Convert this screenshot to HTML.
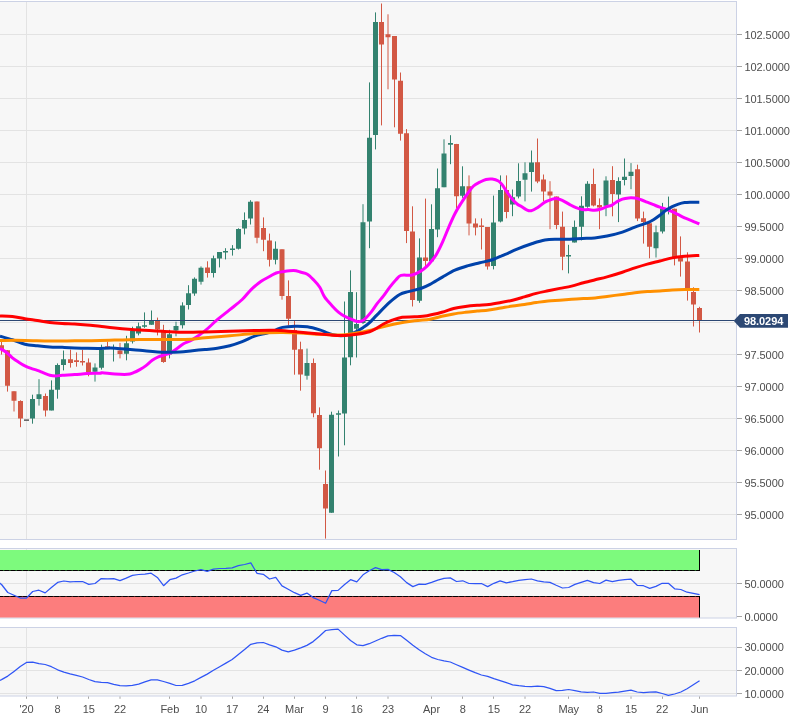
<!DOCTYPE html><html><head><meta charset="utf-8"><title>Chart</title><style>html,body{margin:0;padding:0;background:#fff}body{width:805px;height:716px;overflow:hidden}svg{display:block;will-change:transform}text{font-family:"Liberation Sans",sans-serif;font-size:11px;letter-spacing:-0.08px;fill:#4d4d4d}</style></head><body>
<svg width="805" height="716" viewBox="0 0 805 716">
<rect width="805" height="716" fill="#fff"/>
<rect x="-1" y="1.5" width="737.5" height="538.0" fill="#f7f7f7" stroke="#ccd2e5" stroke-width="1"/>
<rect x="-1" y="548.5" width="737.5" height="69.5" fill="#f7f7f7" stroke="#ccd2e5" stroke-width="1"/>
<rect x="-1" y="627.5" width="737.5" height="68.5" fill="#f7f7f7" stroke="#ccd2e5" stroke-width="1"/>
<path d="M26.48 2.0V539.0M26.48 549.0V617.5M26.48 628.0V695.5M0 34.5H736.0M0 66.5H736.0M0 98.5H736.0M0 130.5H736.0M0 162.5H736.0M0 194.5H736.0M0 226.5H736.0M0 258.5H736.0M0 290.5H736.0M0 322.5H736.0M0 354.5H736.0M0 386.5H736.0M0 418.5H736.0M0 450.5H736.0M0 482.5H736.0M0 514.5H736.0M0 583.5H736.0M0 647.5H736.0M0 670.5H736.0M0 693.5H736.0" stroke="#e3e3e3" stroke-width="1" fill="none"/>
<text x="744.5" y="38.5">102.5000</text>
<text x="744.5" y="70.5">102.0000</text>
<text x="744.5" y="102.5">101.5000</text>
<text x="744.5" y="134.5">101.0000</text>
<text x="744.5" y="166.5">100.5000</text>
<text x="744.5" y="198.5">100.0000</text>
<text x="744.5" y="230.5">99.5000</text>
<text x="744.5" y="262.5">99.0000</text>
<text x="744.5" y="294.5">98.5000</text>
<text x="744.5" y="358.5">97.5000</text>
<text x="744.5" y="390.5">97.0000</text>
<text x="744.5" y="422.5">96.5000</text>
<text x="744.5" y="454.5">96.0000</text>
<text x="744.5" y="486.5">95.5000</text>
<text x="744.5" y="518.5">95.0000</text>
<text x="744.5" y="587.8">50.0000</text>
<text x="744.5" y="620.8">0.0000</text>
<text x="744.5" y="651.1">30.0000</text>
<text x="744.5" y="674.5">20.0000</text>
<text x="744.5" y="697.9">10.0000</text>
<text x="26.48" y="712.8" text-anchor="middle">'20</text>
<text x="57.64" y="712.8" text-anchor="middle">8</text>
<text x="88.80" y="712.8" text-anchor="middle">15</text>
<text x="119.96" y="712.8" text-anchor="middle">22</text>
<text x="169.82" y="712.8" text-anchor="middle">Feb</text>
<text x="200.98" y="712.8" text-anchor="middle">10</text>
<text x="232.14" y="712.8" text-anchor="middle">17</text>
<text x="263.30" y="712.8" text-anchor="middle">24</text>
<text x="294.46" y="712.8" text-anchor="middle">Mar</text>
<text x="325.62" y="712.8" text-anchor="middle">9</text>
<text x="356.78" y="712.8" text-anchor="middle">16</text>
<text x="387.94" y="712.8" text-anchor="middle">23</text>
<text x="431.56" y="712.8" text-anchor="middle">Apr</text>
<text x="462.73" y="712.8" text-anchor="middle">8</text>
<text x="493.89" y="712.8" text-anchor="middle">15</text>
<text x="525.05" y="712.8" text-anchor="middle">22</text>
<text x="568.67" y="712.8" text-anchor="middle">May</text>
<text x="599.83" y="712.8" text-anchor="middle">8</text>
<text x="630.99" y="712.8" text-anchor="middle">15</text>
<text x="662.15" y="712.8" text-anchor="middle">22</text>
<text x="699.55" y="712.8" text-anchor="middle">Jun</text>
<path d="M737.0 34.5h5M737.0 66.5h5M737.0 98.5h5M737.0 130.5h5M737.0 162.5h5M737.0 194.5h5M737.0 226.5h5M737.0 258.5h5M737.0 290.5h5M737.0 354.5h5M737.0 386.5h5M737.0 418.5h5M737.0 450.5h5M737.0 482.5h5M737.0 514.5h5M737.0 583.5h5M737.0 616.5h5M737.0 647.5h5M737.0 670.5h5M737.0 693.5h5M26.50 696.5v2.3M57.50 696.5v2.3M88.50 696.5v2.3M120.00 696.5v2.3M169.50 696.5v2.3M201.00 696.5v2.3M232.50 696.5v2.3M263.50 696.5v2.3M294.50 696.5v2.3M325.50 696.5v2.3M356.50 696.5v2.3M388.00 696.5v2.3M431.50 696.5v2.3M462.50 696.5v2.3M493.50 696.5v2.3M525.00 696.5v2.3M568.50 696.5v2.3M599.50 696.5v2.3M631.00 696.5v2.3M662.50 696.5v2.3M699.50 696.5v2.3" stroke="#a6a6a6" stroke-width="1" fill="none"/>
<path d="M32.50 394.7V423.7M39.00 379.2V405.6M51.50 380.4V410.4M57.50 363.4V398.7M63.50 350.5V370.4M95.00 363.4V381.6M101.50 344.7V369.6M113.50 344.5V361.5M126.50 335.8V360.3M132.50 326.7V343.5M138.50 322.6V335.4M144.50 312.4V327.9M151.50 310.5V324.8M169.50 329.8V358.4M176.00 321.7V336.3M182.50 302.3V328.5M188.50 285.2V309.5M194.50 277.4V295.8M201.00 266.4V284.6M213.50 255.6V277.5M219.50 252.0V267.4M225.50 248.2V259.4M232.50 245.1V255.6M238.50 228.3V249.5M244.50 212.4V234.4M250.50 200.2V224.5M275.50 241.4V264.4M307.00 348.6V379.7M331.50 411.7V512.8M338.50 410.5V456.5M344.50 301.5V445.3M350.50 270.4V365.3M356.50 292.2V357.5M363.00 204.2V324.0M369.50 82.4V248.2M375.50 12.4V149.4M419.50 238.4V302.8M431.50 204.3V263.0M437.50 168.5V237.2M444.00 139.3V187.2M450.50 135.2V164.2M462.50 166.3V197.8M493.50 195.6V269.4M500.50 175.4V222.4M512.50 189.5V216.2M518.50 163.3V198.4M525.00 162.3V201.4M531.50 150.5V191.6M568.50 244.8V273.4M574.50 220.5V242.5M581.50 196.3V240.4M587.50 181.2V207.7M606.00 176.3V216.2M618.50 177.3V222.1M624.50 158.5V185.4M631.00 163.1V189.2M656.00 225.6V257.5M662.50 202.9V233.5M668.50 196.6V214.4" stroke="#33826f" stroke-width="1" fill="none"/>
<path d="M30.00 399.0h5v19.6h-5zM36.50 394.2h5v4.7h-5zM49.00 389.7h5v20.7h-5zM55.00 364.9h5v24.8h-5zM61.00 359.3h5v5.6h-5zM92.50 367.4h5v4.4h-5zM99.00 349.7h5v18.0h-5zM111.00 347.0h5v1.2h-5zM124.00 343.2h5v10.5h-5zM130.00 331.0h5v10.6h-5zM136.00 326.3h5v7.2h-5zM142.00 325.2h5v1.5h-5zM149.00 320.7h5v4.1h-5zM167.00 334.2h5v20.2h-5zM173.50 326.1h5v4.3h-5zM180.00 305.6h5v19.6h-5zM186.00 293.2h5v11.8h-5zM192.00 278.8h5v14.8h-5zM198.50 267.7h5v14.0h-5zM211.00 258.3h5v14.7h-5zM217.00 252.0h5v6.6h-5zM223.00 251.0h5v1.5h-5zM230.00 248.5h5v1.6h-5zM236.00 229.0h5v19.7h-5zM242.00 219.9h5v8.7h-5zM248.00 201.8h5v16.8h-5zM273.00 248.8h5v10.9h-5zM304.50 363.1h5v12.6h-5zM329.00 414.8h5v98.0h-5zM336.00 413.3h5v1.5h-5zM342.00 357.6h5v56.0h-5zM348.00 292.0h5v65.3h-5zM354.00 323.9h5v4.8h-5zM360.50 222.2h5v100.9h-5zM367.00 137.8h5v83.8h-5zM373.00 22.1h5v113.0h-5zM417.00 257.4h5v43.3h-5zM429.00 229.1h5v32.2h-5zM435.00 188.3h5v41.3h-5zM441.50 153.6h5v33.6h-5zM448.00 143.1h5v1.6h-5zM460.00 186.2h5v9.6h-5zM491.00 222.6h5v43.3h-5zM498.00 190.0h5v31.4h-5zM510.00 197.2h5v7.2h-5zM516.00 181.0h5v15.6h-5zM522.50 173.3h5v6.5h-5zM529.00 162.6h5v9.4h-5zM566.00 255.1h5v1.5h-5zM572.00 227.1h5v15.4h-5zM579.00 205.7h5v21.0h-5zM585.00 183.7h5v23.1h-5zM603.50 180.4h5v25.3h-5zM616.00 181.1h5v13.3h-5zM622.00 176.7h5v3.2h-5zM628.50 171.8h5v4.3h-5zM653.50 232.2h5v16.1h-5zM660.00 208.5h5v23.1h-5zM666.00 208.5h5v1.2h-5z" fill="#33826f"/>
<path d="M1.50 341.8V354.6M7.50 350.2V391.6M14.00 391.2V411.5M20.50 400.3V427.2M45.50 393.5V416.5M70.50 349.7V367.6M76.50 352.4V366.7M82.50 349.9V365.5M88.50 358.4V376.3M107.50 341.6V347.5M120.00 342.9V358.4M157.50 317.6V335.4M163.50 324.8V362.8M207.50 261.3V277.6M257.00 201.5V243.3M263.50 217.4V251.2M269.50 233.6V266.5M282.00 249.3V299.7M288.50 280.4V325.5M294.50 321.0V374.7M300.50 341.7V390.7M313.50 358.5V417.3M319.50 407.4V469.7M325.50 470.5V538.6M381.50 3.5V125.4M388.00 14.3V89.3M394.50 36.1V127.3M400.50 72.5V140.6M406.50 129.1V243.1M412.50 206.3V306.5M425.50 198.6V266.1M456.50 143.9V208.1M469.00 175.4V235.4M475.50 218.4V235.4M481.50 218.4V249.5M487.50 227.1V269.6M506.50 175.4V218.3M537.50 138.5V183.2M543.50 174.5V201.3M550.00 181.2V229.2M556.50 196.5V229.2M562.50 211.6V270.2M593.50 168.6V206.4M599.50 198.4V229.2M612.50 166.2V216.3M637.50 164.7V221.1M643.50 211.6V243.6M649.50 223.2V258.3M674.50 208.7V265.4M680.50 236.4V276.6M687.50 252.3V300.6M693.50 287.3V326.5M699.50 306.8V332.5" stroke="#d25844" stroke-width="1" fill="none"/>
<path d="M-1.00 345.3h5v4.4h-5zM5.00 350.2h5v35.5h-5zM11.50 391.2h5v9.5h-5zM18.00 400.9h5v17.7h-5zM43.00 395.9h5v14.7h-5zM68.00 359.3h5v3.7h-5zM74.00 360.2h5v1.7h-5zM80.00 361.1h5v1.5h-5zM86.00 362.6h5v9.4h-5zM105.00 346.2h5v1.2h-5zM117.50 350.6h5v3.4h-5zM155.00 321.1h5v8.5h-5zM161.00 331.0h5v30.9h-5zM205.00 267.4h5v5.6h-5zM254.50 201.5h5v36.2h-5zM261.00 228.0h5v11.8h-5zM267.00 240.4h5v19.3h-5zM279.50 249.3h5v46.7h-5zM286.00 296.0h5v22.7h-5zM292.00 330.0h5v19.8h-5zM298.00 349.2h5v25.2h-5zM311.00 363.1h5v50.2h-5zM317.00 415.1h5v33.1h-5zM323.00 483.9h5v24.6h-5zM379.00 22.1h5v22.4h-5zM385.50 34.2h5v3.1h-5zM392.00 36.1h5v43.5h-5zM398.00 80.7h5v53.0h-5zM404.00 133.2h5v97.9h-5zM410.00 231.5h5v68.4h-5zM423.00 257.4h5v3.5h-5zM454.00 143.9h5v52.4h-5zM466.50 186.2h5v37.4h-5zM473.00 223.4h5v4.2h-5zM479.00 225.5h5v1.6h-5zM485.00 227.1h5v39.4h-5zM504.00 190.0h5v22.1h-5zM535.00 162.3h5v19.3h-5zM541.00 179.5h5v12.1h-5zM547.50 191.6h5v3.9h-5zM554.00 196.5h5v28.4h-5zM560.00 226.7h5v30.1h-5zM591.00 184.1h5v21.3h-5zM597.00 205.0h5v2.4h-5zM610.00 180.0h5v14.0h-5zM635.00 169.3h5v49.1h-5zM641.00 218.2h5v3.8h-5zM647.00 223.2h5v23.5h-5zM672.00 208.7h5v48.6h-5zM678.00 257.3h5v4.3h-5zM685.00 261.6h5v26.8h-5zM691.00 292.0h5v12.4h-5zM697.00 308.1h5v12.2h-5z" fill="#d25844"/>
<path d="M24.00 419.3h5v1.7h-5z" fill="#6a6a6a"/>
<path d="M0 320.5H734" stroke="#2c4874" stroke-width="1"/>
<path d="M0.00 348.50C1.03 349.12 4.13 350.65 6.20 352.20C8.27 353.75 10.32 356.13 12.40 357.80C14.48 359.47 16.62 360.85 18.70 362.20C20.78 363.55 22.83 364.87 24.90 365.90C26.97 366.93 29.03 367.67 31.10 368.40C33.17 369.13 35.23 369.57 37.30 370.30C39.37 371.03 41.42 371.98 43.50 372.80C45.58 373.62 47.72 374.68 49.80 375.20C51.88 375.72 53.93 375.90 56.00 375.90C58.07 375.90 59.10 375.42 62.20 375.20C65.30 374.98 70.45 374.87 74.60 374.60C78.75 374.33 82.87 373.83 87.10 373.60C91.33 373.37 97.45 373.35 100.00 373.20C102.55 373.05 99.92 372.57 102.40 372.70C104.88 372.83 110.75 373.73 114.90 374.00C119.05 374.27 124.20 374.52 127.30 374.30C130.40 374.08 131.42 373.48 133.50 372.70C135.58 371.92 137.72 370.78 139.80 369.60C141.88 368.42 143.93 367.15 146.00 365.60C148.07 364.05 150.13 361.75 152.20 360.30C154.27 358.85 156.33 357.80 158.40 356.90C160.47 356.00 162.53 355.58 164.60 354.90C166.67 354.22 168.72 353.87 170.80 352.80C172.88 351.73 174.98 350.00 177.10 348.50C179.22 347.00 180.95 345.28 183.50 343.80C186.05 342.32 188.83 341.75 192.40 339.60C195.97 337.45 200.75 334.22 204.90 330.90C209.05 327.58 213.15 323.23 217.30 319.70C221.45 316.17 225.65 313.07 229.80 309.70C233.95 306.33 238.68 302.82 242.20 299.50C245.72 296.18 247.80 292.80 250.90 289.80C254.00 286.80 257.68 283.72 260.80 281.50C263.92 279.28 267.03 277.92 269.60 276.50C272.17 275.08 274.07 273.80 276.20 273.00C278.33 272.20 279.50 272.12 282.40 271.70C285.30 271.28 290.48 270.40 293.60 270.50C296.72 270.60 298.82 271.68 301.10 272.30C303.38 272.92 305.23 272.95 307.30 274.20C309.37 275.45 311.42 277.62 313.50 279.80C315.58 281.98 317.93 284.40 319.80 287.30C321.67 290.20 322.63 294.10 324.70 297.20C326.77 300.30 329.92 303.42 332.20 305.90C334.48 308.38 336.33 310.37 338.40 312.10C340.47 313.83 342.53 315.15 344.60 316.30C346.67 317.45 348.70 318.12 350.80 319.00C352.90 319.88 355.12 321.38 357.20 321.60C359.28 321.82 360.98 321.88 363.30 320.30C365.62 318.72 368.77 314.92 371.10 312.10C373.43 309.28 375.23 306.10 377.30 303.40C379.37 300.70 381.42 298.60 383.50 295.90C385.58 293.20 387.72 289.88 389.80 287.20C391.88 284.52 394.13 281.77 396.00 279.80C397.87 277.83 398.32 276.20 401.00 275.40C403.68 274.60 408.80 275.72 412.10 275.00C415.40 274.28 418.30 272.58 420.80 271.10C423.30 269.62 425.32 267.78 427.10 266.10C428.88 264.42 429.98 262.90 431.50 261.00C433.02 259.10 434.38 257.82 436.20 254.70C438.02 251.58 440.32 246.87 442.40 242.30C444.48 237.73 446.62 232.07 448.70 227.30C450.78 222.53 452.83 217.72 454.90 213.70C456.97 209.68 459.03 206.48 461.10 203.20C463.17 199.92 465.23 196.87 467.30 194.00C469.37 191.13 471.42 187.97 473.50 186.00C475.58 184.03 477.72 183.28 479.80 182.20C481.88 181.12 483.93 180.02 486.00 179.50C488.07 178.98 490.13 178.85 492.20 179.10C494.27 179.35 496.75 180.07 498.40 181.00C500.05 181.93 500.65 182.83 502.10 184.70C503.55 186.57 505.43 189.82 507.10 192.20C508.77 194.58 510.43 197.03 512.10 199.00C513.77 200.97 515.53 202.75 517.10 204.00C518.67 205.25 519.98 205.57 521.50 206.50C523.02 207.43 524.58 208.88 526.20 209.60C527.82 210.32 529.33 211.12 531.20 210.80C533.07 210.48 535.12 209.15 537.40 207.70C539.68 206.25 542.62 203.43 544.90 202.10C547.18 200.77 549.23 200.32 551.10 199.70C552.97 199.08 554.23 198.30 556.10 198.40C557.97 198.50 560.02 199.27 562.30 200.30C564.58 201.33 567.52 203.37 569.80 204.60C572.08 205.83 573.93 206.87 576.00 207.70C578.07 208.53 580.13 209.28 582.20 209.60C584.27 209.92 586.33 209.50 588.40 209.60C590.47 209.70 592.53 210.30 594.60 210.20C596.67 210.10 598.72 209.62 600.80 209.00C602.88 208.38 605.32 207.12 607.10 206.50C608.88 205.88 609.98 206.02 611.50 205.30C613.02 204.58 614.38 203.23 616.20 202.20C618.02 201.17 620.32 199.82 622.40 199.10C624.48 198.38 626.62 198.07 628.70 197.90C630.78 197.73 632.83 197.78 634.90 198.10C636.97 198.42 639.03 199.12 641.10 199.80C643.17 200.48 645.23 201.38 647.30 202.20C649.37 203.02 651.42 203.87 653.50 204.70C655.58 205.53 657.72 206.47 659.80 207.20C661.88 207.93 663.93 208.37 666.00 209.10C668.07 209.83 670.13 210.67 672.20 211.60C674.27 212.53 676.33 213.67 678.40 214.70C680.47 215.73 682.52 216.87 684.60 217.80C686.68 218.73 688.45 219.27 690.90 220.30C693.35 221.33 697.90 223.38 699.30 224.00" stroke="#ff00ff" stroke-width="3" fill="none" stroke-linejoin="round"/>
<path d="M0.00 336.10C2.07 336.72 8.25 338.45 12.40 339.80C16.55 341.15 20.75 343.20 24.90 344.20C29.05 345.20 33.15 345.35 37.30 345.80C41.45 346.25 45.65 346.65 49.80 346.90C53.95 347.15 58.07 347.13 62.20 347.30C66.33 347.47 70.45 347.73 74.60 347.90C78.75 348.07 82.87 348.22 87.10 348.30C91.33 348.38 95.37 348.42 100.00 348.40C104.63 348.38 108.27 347.88 114.90 348.20C121.53 348.52 131.52 349.63 139.80 350.30C148.08 350.97 157.90 351.92 164.60 352.20C171.30 352.48 175.37 352.25 180.00 352.00C184.63 351.75 188.25 351.12 192.40 350.70C196.55 350.28 200.75 349.90 204.90 349.50C209.05 349.10 213.15 348.92 217.30 348.30C221.45 347.68 225.65 346.90 229.80 345.80C233.95 344.70 238.07 343.32 242.20 341.70C246.33 340.08 250.45 337.55 254.60 336.10C258.75 334.65 263.70 333.97 267.10 333.00C270.50 332.03 272.45 331.23 275.00 330.30C277.55 329.37 279.08 328.08 282.40 327.40C285.72 326.72 290.75 326.30 294.90 326.20C299.05 326.10 303.15 326.18 307.30 326.80C311.45 327.42 316.68 328.97 319.80 329.90C322.92 330.83 323.80 331.62 326.00 332.40C328.20 333.18 330.50 334.03 333.00 334.60C335.50 335.17 338.33 335.80 341.00 335.80C343.67 335.80 346.53 335.27 349.00 334.60C351.47 333.93 353.42 333.00 355.80 331.80C358.18 330.60 361.10 328.83 363.30 327.40C365.50 325.97 366.67 325.33 369.00 323.20C371.33 321.07 373.83 318.10 377.30 314.60C380.77 311.10 386.07 305.55 389.80 302.20C393.53 298.85 396.60 296.27 399.70 294.50C402.80 292.73 404.88 292.60 408.40 291.60C411.92 290.60 417.20 289.70 420.80 288.50C424.40 287.30 426.40 286.30 430.00 284.40C433.60 282.50 438.25 279.47 442.40 277.10C446.55 274.73 450.75 272.07 454.90 270.20C459.05 268.33 463.15 267.13 467.30 265.90C471.45 264.67 475.65 263.83 479.80 262.80C483.95 261.77 488.07 261.05 492.20 259.70C496.33 258.35 500.45 256.47 504.60 254.70C508.75 252.93 512.47 250.97 517.10 249.10C521.73 247.23 527.77 245.02 532.40 243.50C537.03 241.98 540.75 240.72 544.90 240.00C549.05 239.28 553.15 239.33 557.30 239.20C561.45 239.07 565.65 239.32 569.80 239.20C573.95 239.08 578.07 238.72 582.20 238.50C586.33 238.28 590.45 238.32 594.60 237.90C598.75 237.48 602.47 236.97 607.10 236.00C611.73 235.03 617.77 233.58 622.40 232.10C627.03 230.62 630.75 228.65 634.90 227.10C639.05 225.55 644.20 224.03 647.30 222.80C650.40 221.57 651.42 220.95 653.50 219.70C655.58 218.45 657.72 216.87 659.80 215.30C661.88 213.73 663.93 211.75 666.00 210.30C668.07 208.85 670.13 207.63 672.20 206.60C674.27 205.57 676.33 204.77 678.40 204.10C680.47 203.43 682.52 202.92 684.60 202.60C686.68 202.28 688.45 202.27 690.90 202.20C693.35 202.13 697.90 202.20 699.30 202.20" stroke="#0042aa" stroke-width="3" fill="none" stroke-linejoin="round"/>
<path d="M0.00 340.40C4.15 340.40 16.60 340.30 24.90 340.40C33.20 340.50 41.52 340.93 49.80 341.00C58.08 341.07 66.23 340.88 74.60 340.80C82.97 340.72 89.13 340.72 100.00 340.50C110.87 340.28 125.63 339.68 139.80 339.50C153.97 339.32 174.15 339.70 185.00 339.40C195.85 339.10 197.43 338.30 204.90 337.70C212.37 337.10 221.52 336.48 229.80 335.80C238.08 335.12 246.23 334.13 254.60 333.60C262.97 333.07 272.43 332.70 280.00 332.60C287.57 332.50 293.33 332.72 300.00 333.00C306.67 333.28 313.33 333.97 320.00 334.30C326.67 334.63 334.17 335.18 340.00 335.00C345.83 334.82 350.08 333.95 355.00 333.20C359.92 332.45 365.33 331.45 369.50 330.50C373.67 329.55 375.80 328.58 380.00 327.50C384.20 326.42 388.93 325.12 394.70 324.00C400.47 322.88 408.72 321.60 414.60 320.80C420.48 320.00 425.47 319.95 430.00 319.20C434.53 318.45 437.87 317.18 441.80 316.30C445.73 315.42 449.67 314.57 453.60 313.90C457.53 313.23 461.47 312.77 465.40 312.30C469.33 311.83 473.27 311.50 477.20 311.10C481.13 310.70 485.07 310.42 489.00 309.90C492.93 309.38 496.87 308.63 500.80 308.00C504.73 307.37 508.67 306.68 512.60 306.10C516.53 305.52 520.47 305.08 524.40 304.50C528.33 303.92 532.27 303.20 536.20 302.60C540.13 302.00 544.07 301.30 548.00 300.90C551.93 300.50 555.87 300.47 559.80 300.20C563.73 299.93 567.67 299.57 571.60 299.30C575.53 299.03 579.47 298.83 583.40 298.60C587.33 298.37 591.27 298.27 595.20 297.90C599.13 297.53 602.47 296.98 607.00 296.40C611.53 295.82 617.75 295.02 622.40 294.40C627.05 293.78 630.75 293.18 634.90 292.70C639.05 292.22 643.15 291.80 647.30 291.50C651.45 291.20 655.65 291.15 659.80 290.90C663.95 290.65 668.07 290.22 672.20 290.00C676.33 289.78 680.08 289.67 684.60 289.60C689.12 289.53 696.85 289.60 699.30 289.60" stroke="#ff9000" stroke-width="3" fill="none" stroke-linejoin="round"/>
<path d="M0.00 315.90C2.07 316.00 8.25 316.03 12.40 316.50C16.55 316.97 20.75 318.03 24.90 318.70C29.05 319.37 33.15 319.88 37.30 320.50C41.45 321.12 45.65 321.92 49.80 322.40C53.95 322.88 58.07 323.15 62.20 323.40C66.33 323.65 70.45 323.65 74.60 323.90C78.75 324.15 82.87 324.50 87.10 324.90C91.33 325.30 95.37 325.80 100.00 326.30C104.63 326.80 108.27 327.28 114.90 327.90C121.53 328.52 131.52 329.42 139.80 330.00C148.08 330.58 157.07 331.02 164.60 331.40C172.13 331.78 178.28 332.20 185.00 332.30C191.72 332.40 197.43 332.17 204.90 332.00C212.37 331.83 221.52 331.55 229.80 331.30C238.08 331.05 247.07 330.67 254.60 330.50C262.13 330.33 268.28 330.08 275.00 330.30C281.72 330.52 287.43 331.20 294.90 331.80C302.37 332.40 313.58 333.33 319.80 333.90C326.02 334.47 328.07 334.93 332.20 335.20C336.33 335.47 340.47 335.65 344.60 335.50C348.73 335.35 352.85 334.92 357.00 334.30C361.15 333.68 366.17 332.85 369.50 331.80C372.83 330.75 374.67 329.30 377.00 328.00C379.33 326.70 380.97 325.30 383.50 324.00C386.03 322.70 389.08 321.32 392.20 320.20C395.32 319.08 398.47 317.87 402.20 317.30C405.93 316.73 410.45 317.07 414.60 316.80C418.75 316.53 422.57 316.45 427.10 315.70C431.63 314.95 437.38 313.50 441.80 312.30C446.22 311.10 449.67 309.48 453.60 308.50C457.53 307.52 461.47 306.95 465.40 306.40C469.33 305.85 473.27 305.52 477.20 305.20C481.13 304.88 485.07 304.93 489.00 304.50C492.93 304.07 496.87 303.32 500.80 302.60C504.73 301.88 508.67 301.15 512.60 300.20C516.53 299.25 520.47 298.03 524.40 296.90C528.33 295.77 532.27 294.42 536.20 293.40C540.13 292.38 544.07 291.63 548.00 290.80C551.93 289.97 555.87 289.18 559.80 288.40C563.73 287.62 567.67 287.03 571.60 286.10C575.53 285.17 579.47 283.85 583.40 282.80C587.33 281.75 591.27 280.78 595.20 279.80C599.13 278.82 602.47 278.17 607.00 276.90C611.53 275.63 617.75 273.70 622.40 272.20C627.05 270.70 630.75 269.25 634.90 267.90C639.05 266.55 643.15 265.25 647.30 264.10C651.45 262.95 655.65 262.03 659.80 261.00C663.95 259.97 668.07 258.68 672.20 257.90C676.33 257.12 680.08 256.72 684.60 256.30C689.12 255.88 696.85 255.55 699.30 255.40" stroke="#ff0000" stroke-width="3" fill="none" stroke-linejoin="round"/>
<rect x="-1" y="550" width="700.5" height="20.5" fill="#7dfa7d"/>
<rect x="-1" y="596.5" width="700.5" height="21" fill="#fc7d7d"/>
<path d="M0 570.5H699.5" stroke="#000" stroke-width="1"/>
<path d="M3 570.5H699.5" stroke="#1c5c1c" stroke-width="1" stroke-dasharray="1.4 4.832"/>
<path d="M0 596.5H699.5" stroke="#000" stroke-width="1"/>
<path d="M3 596.5H699.5" stroke="#5c1c1c" stroke-width="1" stroke-dasharray="1.4 4.832"/>
<path d="M699.5 550V571M699.5 596V617.5" stroke="#000" stroke-width="1"/>
<path d="M-4.68 580.0 L1.55 584.5 L7.78 592.5 L14.01 595.3 L20.25 598.0 L26.48 598.0 L32.71 591.5 L38.94 590.2 L45.17 592.9 L51.41 587.5 L57.64 582.4 L63.87 581.0 L70.10 581.9 L76.34 581.5 L82.57 581.5 L88.80 584.4 L95.03 583.5 L101.26 578.6 L107.50 578.8 L113.73 578.6 L119.96 580.6 L126.19 578.1 L132.42 575.4 L138.66 574.5 L144.89 574.1 L151.12 573.2 L157.35 577.4 L163.58 585.7 L169.82 579.7 L176.05 578.1 L182.28 574.8 L188.51 573.0 L194.75 571.0 L200.98 569.6 L207.21 571.4 L213.44 569.2 L219.67 568.5 L225.91 568.3 L232.14 567.8 L238.37 565.6 L244.60 564.5 L250.83 562.9 L257.07 573.4 L263.30 574.3 L269.53 579.0 L275.76 577.4 L281.99 585.9 L288.23 589.3 L294.46 592.7 L300.69 595.3 L306.92 593.1 L313.16 597.6 L319.39 600.3 L325.62 603.2 L331.85 590.6 L338.08 590.4 L344.32 584.8 L350.55 579.7 L356.78 581.9 L363.01 574.8 L369.24 570.7 L375.48 567.6 L381.71 569.6 L387.94 569.4 L394.17 572.5 L400.40 576.8 L406.64 582.6 L412.87 586.6 L419.10 584.1 L425.33 584.4 L431.56 582.4 L437.80 580.1 L444.03 578.3 L450.26 577.9 L456.49 581.5 L462.73 580.8 L468.96 583.5 L475.19 583.7 L481.42 583.5 L487.65 586.6 L493.89 583.3 L500.12 580.8 L506.35 582.8 L512.58 581.7 L518.81 580.3 L525.05 579.7 L531.28 579.0 L537.51 580.8 L543.74 581.9 L549.97 582.4 L556.21 585.3 L562.44 588.0 L568.67 587.5 L574.90 584.4 L581.14 582.4 L587.37 580.3 L593.60 582.6 L599.83 583.5 L606.06 580.1 L612.30 581.7 L618.53 580.3 L624.76 579.7 L630.99 579.2 L637.22 585.3 L643.46 585.7 L649.69 588.4 L655.92 586.4 L662.15 583.3 L668.38 583.3 L674.62 588.8 L680.85 589.5 L687.08 592.2 L693.31 593.3 L699.55 594.7" stroke="#2f55f5" stroke-width="1.25" fill="none" stroke-linejoin="round"/>
<path d="M-4.68 682.5 L1.55 679.6 L7.78 676.1 L14.01 671.4 L20.25 666.5 L26.48 662.4 L32.71 662.2 L38.94 663.6 L45.17 664.5 L51.41 666.7 L57.64 669.8 L63.87 672.1 L70.10 673.9 L76.34 675.4 L82.57 677.0 L88.80 679.5 L95.03 681.7 L101.26 682.4 L107.50 682.6 L113.73 684.4 L119.96 685.7 L126.19 685.9 L132.42 685.3 L138.66 684.1 L144.89 681.9 L151.12 679.9 L157.35 679.9 L163.58 681.5 L169.82 683.3 L176.05 685.5 L182.28 685.3 L188.51 683.3 L194.75 680.8 L200.98 677.4 L207.21 674.1 L213.44 670.3 L219.67 666.7 L225.91 663.1 L232.14 659.5 L238.37 654.6 L244.60 649.5 L250.83 644.3 L257.07 642.8 L263.30 642.5 L269.53 644.8 L275.76 646.8 L281.99 650.1 L288.23 651.9 L294.46 650.1 L300.69 647.9 L306.92 645.4 L313.16 641.6 L319.39 636.3 L325.62 630.5 L331.85 629.6 L338.08 629.1 L344.32 634.9 L350.55 640.5 L356.78 644.8 L363.01 645.7 L369.24 643.7 L375.48 641.0 L381.71 638.3 L387.94 635.8 L394.17 635.4 L400.40 635.6 L406.64 640.3 L412.87 645.2 L419.10 649.7 L425.33 653.7 L431.56 657.3 L437.80 659.5 L444.03 660.9 L450.26 662.0 L456.49 664.7 L462.73 667.4 L468.96 670.1 L475.19 672.7 L481.42 675.0 L487.65 676.3 L493.89 678.6 L500.12 680.6 L506.35 682.6 L512.58 684.8 L518.81 685.7 L525.05 686.4 L531.28 686.6 L537.51 686.2 L543.74 686.6 L549.97 688.4 L556.21 690.6 L562.44 690.4 L568.67 689.5 L574.90 690.6 L581.14 691.8 L587.37 692.4 L593.60 692.0 L599.83 693.3 L606.06 693.3 L612.30 692.7 L618.53 692.2 L624.76 691.1 L630.99 690.2 L637.22 692.0 L643.46 692.7 L649.69 692.2 L655.92 691.8 L662.15 693.5 L668.38 695.3 L674.62 694.0 L680.85 692.0 L687.08 688.8 L693.31 684.8 L699.55 680.8" stroke="#2f55f5" stroke-width="1.25" fill="none" stroke-linejoin="round"/>
<path d="M733.7 320.8L740 314H788V327.8H740Z" fill="#2c4874"/>
<text x="744" y="325" style="font-weight:bold;fill:#fff">98.0294</text>
</svg></body></html>
